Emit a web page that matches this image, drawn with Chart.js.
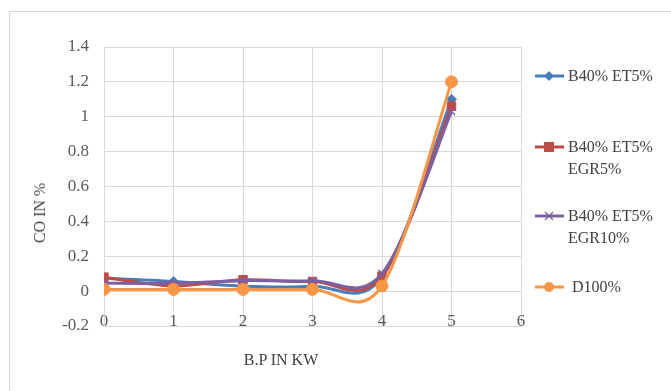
<!DOCTYPE html>
<html>
<head>
<meta charset="utf-8">
<script src="https://cdn.jsdelivr.net/npm/chart.js@4"></script>
<style>
    body { margin: 0; background: #fff; }
    #wrap { position: relative; width: 671px; height: 391px; overflow: hidden; font-family: "Liberation Serif", "DejaVu Serif", serif; color: #404040; }
    #frame { position: absolute; left: 9px; top: 11px; width: 700px; height: 420px; border: 1px solid #d9d9d9; }
    #chartCanvas { position: absolute; left: 0; top: 0; }
    .axisTitle { position: absolute; font-size: 16px; white-space: nowrap; }
    #xTitle { left: 281px; top: 360px; transform: translate(-50%, -50%); }
    #yTitle { left: 40px; top: 213px; transform: translate(-50%, -50%) rotate(-90deg); }
    .legendItem { position: absolute; left: 535px; font-size: 16px; line-height: 22px; }
    .legendItem svg { position: absolute; left: 0; top: -6px; }
    .legendItem span { position: absolute; left: 33px; top: -11px; white-space: pre; }
</style>
</head>
<body>
<div id="wrap">
    <div id="frame"></div>
    <canvas id="chartCanvas" width="671" height="391"></canvas>
    <div id="xTitle" class="axisTitle">B.P IN KW</div>
    <div id="yTitle" class="axisTitle">CO IN %</div>
    <div id="legend"></div>
</div>
<script>
let loads = [0, 1, 2, 3, 4, 5];
let seriesNames = ["B40% ET5%", "B40% ET5%\nEGR5%", "B40% ET5%\nEGR10%", " D100%"];
let coEt5 = [0.074, 0.055, 0.028, 0.028, 0.08, 1.10];
let coEgr5 = [0.08, 0.03, 0.065, 0.055, 0.085, 1.06];
let coEgr10 = [0.045, 0.045, 0.06, 0.06, 0.10, 1.03];
let coDiesel = [0.01, 0.01, 0.01, 0.01, 0.03, 1.20];
let yTicks = [-0.2, 0, 0.2, 0.4, 0.6, 0.8, 1, 1.2, 1.4];
let xTicks = [0, 1, 2, 3, 4, 5, 6];

let colors = ["#4a7ebb", "#be4b48", "#7d60a0", "#f79646"];
let markers = ["rectRot", "rect", "crossRot", "circle"];
let markerSizes = [5, 6, 5, 6];
let legendTops = [76, 147, 216, 287];

function toPoints(values) {
    let points = [];
    for (let i = 0; i < loads.length; i++) {
        points.push({ x: loads[i], y: values[i] });
    }
    return points;
}

// Excel style smoothing: uniform Catmull-Rom tangents on the points chart.js placed
let catmullRom = {
    id: "catmullRom",
    beforeDatasetsDraw(chart) {
        for (let i = 0; i < chart.data.datasets.length; i++) {
            let meta = chart.getDatasetMeta(i);
            if (meta.dataset.updateControlPoints) {
                meta.dataset.updateControlPoints(chart.chartArea, "x");
            }
            let pts = meta.data;
            for (let k = 0; k < pts.length; k++) {
                let prev = pts[Math.max(k - 1, 0)];
                let next = pts[Math.min(k + 1, pts.length - 1)];
                let dx = (next.x - prev.x) / 6;
                let dy = (next.y - prev.y) / 6;
                pts[k].cp1x = pts[k].x - dx;
                pts[k].cp1y = pts[k].y - dy;
                pts[k].cp2x = pts[k].x + dx;
                pts[k].cp2y = pts[k].y + dy;
            }
        }
    }
};

let allValues = [coEt5, coEgr5, coEgr10, coDiesel];
let dataSets = [];

for (let i = 0; i < allValues.length; i++) {
    dataSets.push({
        label: seriesNames[i],
        data: toPoints(allValues[i]),
        borderColor: colors[i],
        backgroundColor: colors[i],
        borderWidth: 3,
        pointStyle: markers[i],
        pointRadius: markerSizes[i],
        pointBorderWidth: i == 2 ? 1.5 : 1,
        tension: 0.4,
        order: allValues.length - i
    });
}

let tickFont = { family: "Liberation Serif", size: 17 };

let chart = new Chart(document.getElementById("chartCanvas").getContext("2d"), {
    type: "line",
    data: { datasets: dataSets },
    plugins: [catmullRom],
    options: {
        responsive: false,
        animation: false,
        layout: { padding: { left: 0, top: 47, right: 150, bottom: 0 } },
        plugins: { legend: { display: false }, tooltip: { enabled: false } },
        scales: {
            x: {
                type: "linear",
                min: 0,
                max: 6,
                afterBuildTicks: (axis) => { axis.ticks = xTicks.map(v => ({ value: v })); },
                afterFit: (axis) => { axis.height = 65; },
                grid: { color: "#d9d9d9", drawTicks: false },
                border: { color: "#d9d9d9" },
                ticks: { font: tickFont, color: "#595959", mirror: true, padding: -6 }
            },
            y: {
                min: -0.2,
                max: 1.4,
                afterBuildTicks: (axis) => { axis.ticks = yTicks.map(v => ({ value: v })); },
                afterFit: (axis) => { axis.width = 104; },
                grid: { color: "#d9d9d9", drawTicks: false },
                border: { color: "#d9d9d9" },
                ticks: {
                    font: tickFont,
                    color: "#595959",
                    padding: 15,
                    callback: (v) => String(Number(v.toFixed(1)))
                }
            }
        }
    }
});

// legend on the right, same styles as the datasets
let legend = document.getElementById("legend");
for (let i = 0; i < seriesNames.length; i++) {
    let item = document.createElement("div");
    item.className = "legendItem";
    item.style.top = legendTops[i] + "px";
    let c = colors[i];
    let mark;
    if (markers[i] == "rectRot") {
        mark = '<polygon points="14,1 19,6 14,11 9,6" fill="' + c + '"/>';
    } else if (markers[i] == "rect") {
        mark = '<rect x="9" y="1" width="10" height="10" fill="' + c + '"/>';
    } else if (markers[i] == "crossRot") {
        mark = '<path d="M10 2 L18 10 M18 2 L10 10" stroke="' + c + '" stroke-width="1.2"/>';
    } else {
        mark = '<circle cx="14" cy="6" r="5" fill="' + c + '"/>';
    }
    item.innerHTML = '<svg width="29" height="12"><line x1="0" y1="6" x2="29" y2="6" stroke="' + c + '" stroke-width="3"/>' + mark + '</svg><span></span>';
    item.querySelector("span").textContent = seriesNames[i];
    legend.appendChild(item);
}
</script>
</body>
</html>
